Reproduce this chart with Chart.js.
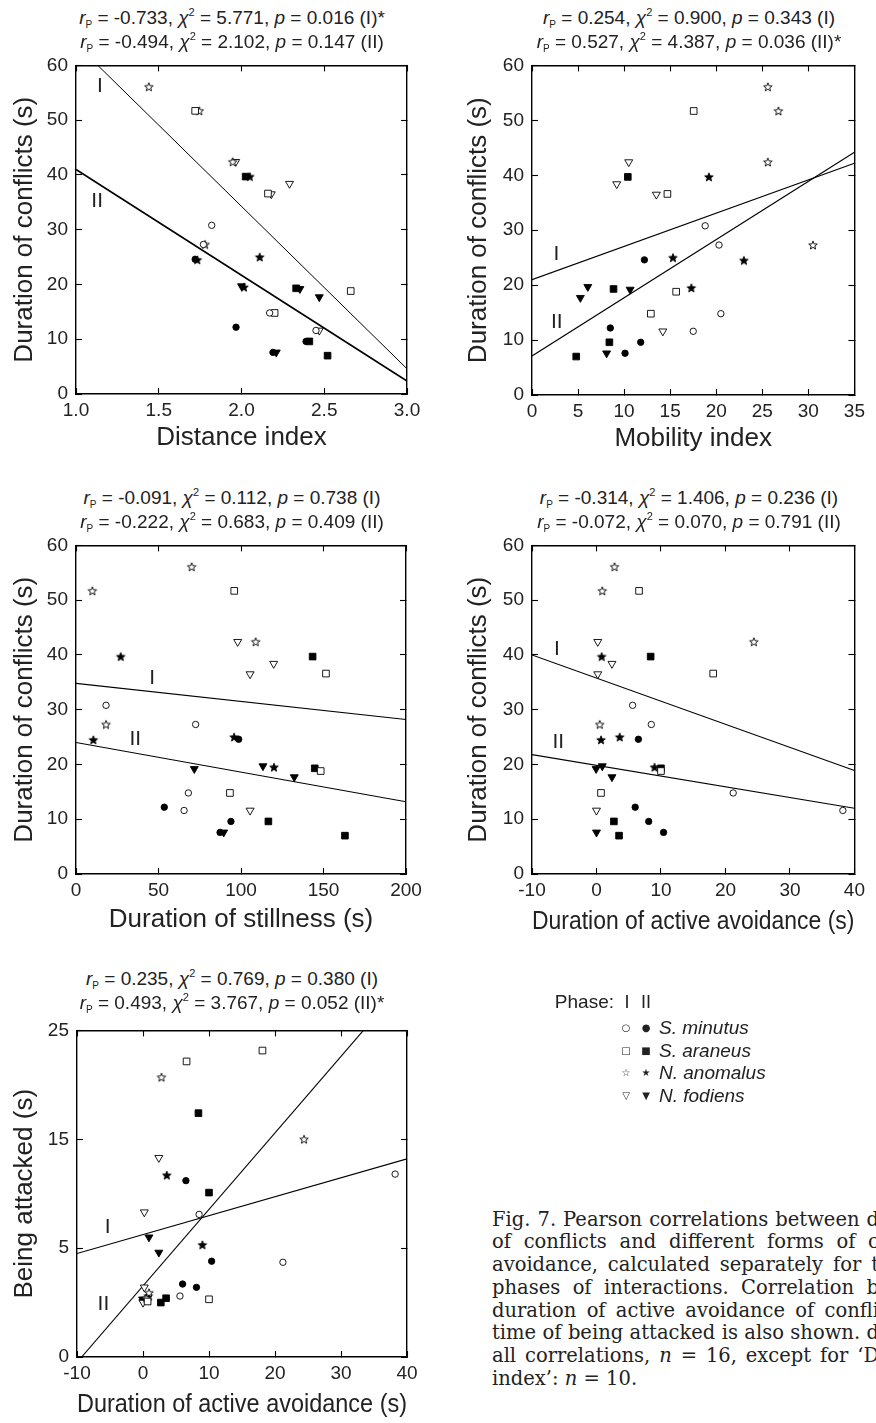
<!DOCTYPE html>
<html><head><meta charset="utf-8">
<script src="https://cdn.jsdelivr.net/npm/chart.js@4.4.1/dist/chart.umd.min.js"></script>
<style>
html,body{margin:0;padding:0;background:#fff;}
body{width:876px;height:1423px;position:relative;overflow:hidden;font-family:"Liberation Sans",Arial,sans-serif;color:#222;}
canvas{position:absolute;}
.t{position:absolute;white-space:nowrap;font-size:19px;line-height:24px;transform:translateX(-50%);}
.sb{font-size:10px;position:relative;top:4px;}
.sp{font-size:11px;position:relative;top:-8px;}
.lg{position:absolute;white-space:nowrap;font-size:19px;line-height:22px;}
.mk{position:absolute;font-family:"DejaVu Sans";font-size:10px;line-height:22px;transform:translateX(-50%);}
.cap{position:absolute;white-space:nowrap;font-family:"DejaVu Serif",serif;font-size:19.5px;line-height:22.8px;color:#222;}
</style></head>
<body>
<script>
const FONT = '"Liberation Sans", Arial, sans-serif';
const TXT = '#222';
const speciesNames = ['S. minutus', 'S. araneus', 'N. anomalus', 'N. fodiens'];
// 16 values per phase, in order: 4 × S. minutus, 4 × S. araneus, 4 × N. anomalus, 4 × N. fodiens
const conflictI   = [30.8,27.3,14.8,11.6, 51.7,36.6,18.8,14.8, 56.1,51.7,42.4,27.3, 42.4,38.4,36.5,11.6];
const conflictII  = [24.6,12.2,9.6,7.6, 39.7,19.3,9.6,7.0, 39.7,25.0,24.5,19.5, 19.7,19.2,17.7,7.6];
const distanceI   = [1.82,1.77,2.17,2.45, 1.72,2.16,2.66,2.20, 1.44,1.745,1.947,1.78, 1.965,2.29,2.18,2.47];
const distanceII  = [1.72,1.967,2.39,2.19, 2.025,2.33,2.41,2.52, 2.05,2.11,1.733,2.015, 2.0,2.353,2.47,2.21];
const mobilityI   = [18.8,20.3,20.5,17.5, 17.55,14.7,15.65,12.9, 25.6,26.75,25.6,30.5, 10.5,9.2,13.5,14.2];
const mobilityII  = [12.2,8.5,11.8,10.1, 10.4,8.85,8.4,4.8, 19.2,15.3,23.0,17.3, 6.06,10.65,5.25,8.1];
const stillnessI  = [18.2,72.5,68.1,65.5, 95.9,151.5,148.3,93.3, 70.1,9.9,108.9,18.2, 98.0,119.8,105.5,105.5];
const stillnessII = [98.6,53.5,93.9,87.3, 143.4,144.7,116.6,163.0, 27.1,95.8,10.5,120.0, 113.3,71.7,132.3,89.5];
const avoidI      = [5.6,8.5,21.2,38.2, 6.6,18.1,10.0,0.7, 2.8,0.9,24.4,0.5, 0.2,2.4,0.2,0.0];
const avoidII     = [6.5,6.0,8.1,10.4, 8.4,10.0,2.7,3.5, 0.8,3.6,0.7,9.0, 0.9,-0.06,2.4,0.0];
// being attacked, in the units of the drawn axis (ticks 0,10,20,30 labelled 0,5,15,25)
const attackedI   = [5.6,13.1,8.7,16.8, 27.15,28.15,5.3,5.1, 25.7,5.9,20.0,5.4, 13.3,18.3,6.4,5.0];
const attackedII  = [16.2,6.7,6.4,8.8, 22.4,15.1,5.0,5.4, 5.6,16.7,5.2,10.3, 11.0,5.3,9.6,5.1];

// regression lines (end points)
const fit1I = [[1.132,60],[3.0,4.6]],  fit1II = [[1.0,41.0],[3.0,2.35]];
const fit2I = [[0,21.0],[35,42.2]],    fit2II = [[0,7.1],[35,44.2]];
const fit3I = [[0,34.8],[200,28.2]],   fit3II = [[0,24.0],[200,13.2]];
const fit4I = [[-10,40.0],[40,18.9]],  fit4II = [[-10,21.8],[40,12.0]];
const fit5I = [[-10,9.5],[40,18.2]],   fit5II = [[-9.3,0],[33.4,30]];

// tick values and labels
const durTicks = [0,10,20,30,40,50,60], durLabels = ['0','10','20','30','40','50','60'];
const distTicks = [1.0,1.5,2.0,2.5,3.0], distLabels = ['1.0','1.5','2.0','2.5','3.0'];
const mobTicks = [0,5,10,15,20,25,30,35], mobLabels = ['0','5','10','15','20','25','30','35'];
const stillTicks = [0,50,100,150,200], stillLabels = ['0','50','100','150','200'];
const avoidTicks = [-10,0,10,20,30,40], avoidLabels = ['-10','0','10','20','30','40'];
const attTicks = [0,10,20,30], attLabels = ['0','5','15','25'];

function starCanvas(filled){
  const c = document.createElement('canvas'); c.width = 12; c.height = 12;
  const g = c.getContext('2d');
  g.beginPath();
  for (let i=0;i<10;i++){ const r = i%2 ? 1.9 : 4.5; const a = -Math.PI/2 + i*Math.PI/5; g.lineTo(6+r*Math.cos(a), 6.4+r*Math.sin(a)); }
  g.closePath();
  g.fillStyle = filled ? '#000' : '#fff'; g.fill();
  g.lineWidth = 0.9; g.strokeStyle = '#000'; g.stroke();
  return c;
}
const starOpen = starCanvas(false), starFill = starCanvas(true);

function markerStyle(s, ph){
  const bg = ph === 0 ? '#fff' : '#000';
  const base = {backgroundColor:bg, borderColor:'#000', borderWidth:0.9, pointBackgroundColor:bg, pointBorderColor:'#000', pointBorderWidth:0.9, showLine:false};
  if (s===0) return {...base, pointStyle:'circle', pointRadius:3.2};
  if (s===1) return {...base, pointStyle:'rect', pointRadius:4.7};
  if (s===2) return {...base, pointStyle: ph===0 ? starOpen : starFill, pointRadius:4};
  return {...base, pointStyle:'triangle', pointRadius:4.6, pointRotation:180};
}

const phaseLabels = {
  id:'phaseLabels',
  afterDatasetsDraw(chart, args, opts){
    const {ctx} = chart; const x = chart.scales.x, y = chart.scales.y;
    ctx.save(); ctx.font = '21px ' + FONT; ctx.fillStyle = TXT; ctx.textAlign = 'center'; ctx.textBaseline = 'middle';
    (opts.items||[]).forEach(it => ctx.fillText(it.text, x.getPixelForValue(it.x), y.getPixelForValue(it.y)));
    ctx.restore();
  }
};

function panel(o){
  const cv = document.createElement('canvas');
  cv.width = o.W; cv.height = o.H; cv.style.left = o.L+'px'; cv.style.top = o.T+'px';
  document.body.appendChild(cv);
  const padTop = o.area[1]-o.T, padRight = o.L+o.W-o.area[2];
  const yW = o.area[0]-o.L, xH = o.T+o.H-o.area[3];
  const datasets = [];
  [0,1].forEach(ph => {
    for (let s=0;s<4;s++){
      const data = [];
      for (let k=s*4;k<s*4+4;k++) data.push({x:o.xs[ph][k], y:o.ys[ph][k]});
      datasets.push({label: speciesNames[s]+(ph?' II':' I'), data, xAxisID:'x', yAxisID:'y', ...markerStyle(s,ph)});
    }
  });
  o.fits.forEach((f,i) => datasets.push({data:f.map(p=>({x:p[0],y:p[1]})), xAxisID:'x', yAxisID:'y', showLine:true, pointRadius:0, borderColor:'#000', borderWidth:o.fitW[i], fill:false, tension:0}));
  const grid = {drawOnChartArea:false, drawTicks:true, tickLength:-6, color:'#000', tickWidth:1.1};
  const border = {display:true, color:'#000', width:1.4};
  const tickFont = {family:FONT, size:19};
  const ax = (min,max,vals) => ({type:'linear', min, max, afterBuildTicks: s => { s.ticks = vals.map(v=>({value:v})); }, grid, border});
  new Chart(cv, {
    type:'scatter',
    data:{datasets},
    plugins:[phaseLabels],
    options:{
      responsive:false, animation:false, devicePixelRatio:1, events:[],
      layout:{padding:{top:padTop, right:padRight, left:0, bottom:0}},
      plugins:{legend:{display:false}, tooltip:{enabled:false}, phaseLabels:{items:o.labels}},
      scales:{
        x:{...ax(o.xr[0],o.xr[1],o.xt), axis:'x', position:'bottom',
           ticks:{autoSkip:false, maxRotation:0, minRotation:0, padding:11, font:tickFont, color:TXT, callback:(v,i)=>o.xl[i]},
           title:{display:true, text:o.xTitle, font:{family:FONT,size:26}, color:TXT, padding:{top:0,bottom:o.xTitleOff-15.6}},
           afterFit:s=>{s.height = xH;}},
        x2:{...ax(o.xr[0],o.xr[1],o.xt), axis:'x', position:'top', ticks:{display:false}, afterFit:s=>{s.height=0;}},
        y:{...ax(o.yr[0],o.yr[1],o.yt), axis:'y', position:'left',
           ticks:{autoSkip:false, padding:14, font:tickFont, color:TXT, callback:(v,i)=>o.yl[i]},
           title:{display:true, text:o.yTitle, font:{family:FONT,size:26}, color:TXT, padding:{top:o.yTitleX-o.L-15.6,bottom:0}},
           afterFit:s=>{s.width = yW;}},
        y2:{...ax(o.yr[0],o.yr[1],o.yt), axis:'y', position:'right', ticks:{display:false}, afterFit:s=>{s.width=0;}}
      }
    }
  });
}

panel({L:0,T:40,W:440,H:440, area:[76,62,407,394], xr:[1,3], xt:distTicks, xl:distLabels, yr:[0,60], yt:durTicks, yl:durLabels,
  xs:[distanceI,distanceII], ys:[conflictI,conflictII], fits:[fit1I,fit1II], fitW:[1,1.7],
  xTitle:'Distance index', xTitleOff:42, yTitle:'Duration of conflicts (s)', yTitleX:25,
  labels:[{text:'I',x:1.145,y:56.2},{text:'II',x:1.128,y:35.15}]});
panel({L:440,T:40,W:436,H:440, area:[532,64,863,395], xr:[0,35], xt:mobTicks, xl:mobLabels, yr:[0,60], yt:durTicks, yl:durLabels,
  xs:[mobilityI,mobilityII], ys:[conflictI,conflictII], fits:[fit2I,fit2II], fitW:[1.1,1.1],
  xTitle:'Mobility index', xTitleOff:41, yTitle:'Duration of conflicts (s)', yTitleX:479,
  labels:[{text:'I',x:2.64,y:25.56},{text:'II',x:2.7,y:13.2}]});
panel({L:0,T:520,W:440,H:430, area:[76,544,406,874], xr:[0,200], xt:stillTicks, xl:stillLabels, yr:[0,60], yt:durTicks, yl:durLabels,
  xs:[stillnessI,stillnessII], ys:[conflictI,conflictII], fits:[fit3I,fit3II], fitW:[1.1,1.1],
  xTitle:'Duration of stillness (s)', xTitleOff:30, yTitle:'Duration of conflicts (s)', yTitleX:25,
  labels:[{text:'I',x:46.1,y:35.8},{text:'II',x:35.9,y:24.6}]});
panel({L:440,T:520,W:436,H:430, area:[532,544,863,874], xr:[-10,40], xt:avoidTicks, xl:avoidLabels, yr:[0,60], yt:durTicks, yl:durLabels,
  xs:[avoidI,avoidII], ys:[conflictI,conflictII], fits:[fit4I,fit4II], fitW:[1.1,1.1],
  xTitle:'Duration of active avoidance (s)', xTitleOff:28, yTitle:'Duration of conflicts (s)', yTitleX:479,
  labels:[{text:'I',x:-6.14,y:41.05},{text:'II',x:-5.92,y:24.0}]});
panel({L:0,T:1005,W:440,H:418, area:[77,1027,407,1357], xr:[-10,40], xt:avoidTicks, xl:avoidLabels, yr:[0,30], yt:attTicks, yl:attLabels,
  xs:[avoidI,avoidII], ys:[attackedI,attackedII], fits:[fit5I,fit5II], fitW:[1.1,1.1],
  xTitle:'Duration of active avoidance (s)', xTitleOff:18, yTitle:'Being attacked (s)', yTitleX:25,
  labels:[{text:'I',x:-5.35,y:11.93},{text:'II',x:-6.0,y:4.88}]});

// statistics headers
const stats = [
  [232,18,'-0.733','5.771','0.016','(I)*'], [232,42,'-0.494','2.102','0.147','(II)'],
  [689,18,'0.254','0.900','0.343','(I)'],   [689,42,'0.527','4.387','0.036','(II)*'],
  [232,498,'-0.091','0.112','0.738','(I)'], [232,522,'-0.222','0.683','0.409','(II)'],
  [689,498,'-0.314','1.406','0.236','(I)'], [689,522,'-0.072','0.070','0.791','(II)'],
  [232,979,'0.235','0.769','0.380','(I)'],  [232,1003,'0.493','3.767','0.052','(II)*']
];
stats.forEach(s => {
  const d = document.createElement('div'); d.className = 't';
  d.style.left = s[0]+'px'; d.style.top = (s[1]-12)+'px';
  d.innerHTML = '<i>r</i><span class="sb">P</span> = '+s[2]+', <i>χ</i><span class="sp">2</span> = '+s[3]+', <i>p</i> = '+s[4]+' '+s[5];
  document.body.appendChild(d);
});

// legend
function addDiv(cls, html, left, top){ const d=document.createElement('div'); d.className=cls; d.innerHTML=html; d.style.left=left+'px'; d.style.top=top+'px'; document.body.appendChild(d); return d; }
const ph = addDiv('lg','Phase:',0,991); ph.style.left=''; ph.style.right=(876-614)+'px';
addDiv('mk','<span style="font-family:Liberation Sans;font-size:18px">I</span>',627,991);
addDiv('mk','<span style="font-family:Liberation Sans;font-size:18px">II</span>',646,991);
const openG = ['○','□','☆','▽'], fillG = ['●','■','★','▼'];
const legY = [1028,1051,1073,1096];
speciesNames.forEach((n,i) => {
  addDiv('mk', openG[i], 626, legY[i]-11);
  addDiv('mk', fillG[i], 646, legY[i]-11);
  addDiv('lg', '<i>'+n+'</i>', 659, legY[i]-11);
});

// caption (justified column, clipped by the page edge)
const capLeft = 492, capRight = 879;
const capLines = [
  ['Fig. 7. Pearson correlations between duration','Fig. 7. Pearson correlations between d'],
  ['of conflicts and different forms of conflict','of conflicts and different forms of c'],
  ['avoidance, calculated separately for the two','avoidance, calculated separately for t'],
  ['phases of interactions. Correlation between','phases of interactions. Correlation b'],
  ['duration of active avoidance of conflicts and','duration of active avoidance of confli'],
  ['time of being attacked is also shown. dFor','time of being attacked is also shown. d'],
  ['all correlations, <i>n</i> = 16, except for ‘Distance','all correlations, <i>n</i> = 16, except for ‘D'],
  ['index’: <i>n</i> = 10.', null]
];
capLines.forEach((l,i) => {
  const d = addDiv('cap', l[0], capLeft, 1220 + i*22.75 - 11.4);
  if (l[1]){
    const m = addDiv('cap', l[1], capLeft, -200);
    const w0 = m.getBoundingClientRect().width;
    const n = (m.textContent.match(/ /g)||[]).length;
    m.remove();
    d.style.wordSpacing = ((capRight - capLeft - w0)/n).toFixed(2)+'px';
  }
});
</script>
</body></html>
